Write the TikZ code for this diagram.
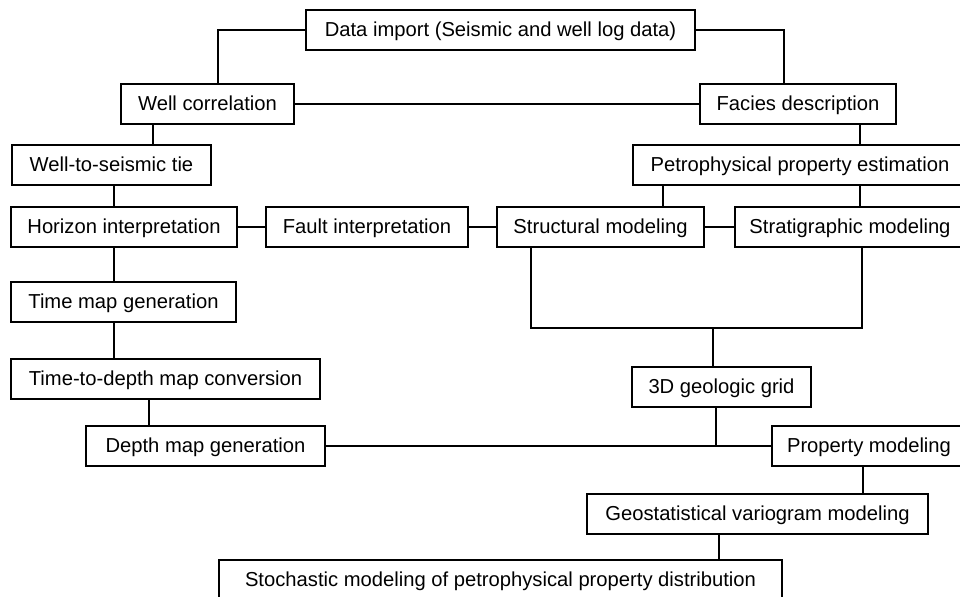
\documentclass[tikz,border=0pt]{standalone}
\usepackage{fontspec}
\setmainfont{Liberation Sans}
\usetikzlibrary{calc,positioning}

\begin{document}
\begin{tikzpicture}[x=0.02cm,y=-0.02cm]
      \tikzstyle{task}=[rectangle,draw,line width=.03cm,minimum height=0.8cm,inner sep=2pt,text height=0.72em,text depth=0pt,font=\fontsize{11.5}{13}\selectfont]
      \tikzstyle{link}=[line width=.03cm]
      \useasboundingbox (0,0) rectangle (960,597);
      \clip (0,0) rectangle (960,597);

      \node[task,minimum width=7.78cm] (import) at (500.5,30) {Data import (Seismic and well log data)};
      \node[task,minimum width=3.46cm] (wellcorr) at (207.5,104) {Well correlation};
      \node[task,minimum width=3.92cm] (facies) at (798,104) {Facies description};
      \node[task,minimum width=3.98cm] (welltie) at (111.5,165) {Well-to-seismic tie};
      \node[task,minimum width=6.68cm] (petro) at (800,165) {Petrophysical property estimation};
      \node[task,minimum width=4.52cm] (horizon) at (124,227) {Horizon interpretation};
      \node[task,minimum width=4.04cm] (fault) at (367,227) {Fault interpretation};
      \node[task,minimum width=4.14cm] (struct) at (600.5,227) {Structural modeling};
      \node[task,minimum width=4.6cm] (strat) at (850,227) {Stratigraphic modeling};
      \node[task,minimum width=4.5cm] (timemap) at (123.5,302) {Time map generation};
      \node[task,minimum width=6.18cm] (tdconv) at (165.5,379) {Time-to-depth map conversion};
      \node[task,minimum width=3.58cm] (grid) at (721.5,387) {3D geologic grid};
      \node[task,minimum width=4.78cm] (depthmap) at (205.5,446) {Depth map generation};
      \node[task,minimum width=3.88cm] (propmod) at (869,446) {Property modeling};
      \node[task,minimum width=6.82cm] (vario) at (757.5,514) {Geostatistical variogram modeling};
      \node[task,minimum width=11.26cm] (stoch) at (500.5,580) {Stochastic modeling of petrophysical property distribution};

      \coordinate (merge) at (713,328);
      \coordinate (join) at (716,446);

      \draw[link] (import.west) -| (wellcorr.north -| 218,0);
      \draw[link] (import.east) -| (facies.north -| 784,0);
      \draw[link] (wellcorr.east) -- (facies.west);
      \draw[link] (wellcorr.south -| 153,0) -- (welltie.north -| 153,0);
      \draw[link] (facies.south -| 860,0) -- (petro.north -| 860,0);
      \draw[link] (welltie.south -| 114,0) -- (horizon.north -| 114,0);
      \draw[link] (petro.south -| 663,0) -- (struct.north -| 663,0);
      \draw[link] (petro.south -| 860,0) -- (strat.north -| 860,0);
      \draw[link] (horizon.east) -- (fault.west);
      \draw[link] (fault.east) -- (struct.west);
      \draw[link] (struct.east) -- (strat.west);
      \draw[link] (horizon.south -| 114,0) -- (timemap.north -| 114,0);
      \draw[link] (timemap.south -| 114,0) -- (tdconv.north -| 114,0);
      \draw[link] (tdconv.south -| 149,0) -- (depthmap.north -| 149,0);
      \draw[link] (struct.south -| 531,0) |- (merge) -| (strat.south -| 862,0);
      \draw[link] (merge) -- (grid.north -| merge);
      \draw[link] (grid.south -| join) -- (join);
      \draw[link] (depthmap.east) -- (propmod.west);
      \draw[link] (propmod.south -| 863,0) -- (vario.north -| 863,0);
      \draw[link] (vario.south -| 719,0) -- (stoch.north -| 719,0);
\end{tikzpicture}
\end{document}
